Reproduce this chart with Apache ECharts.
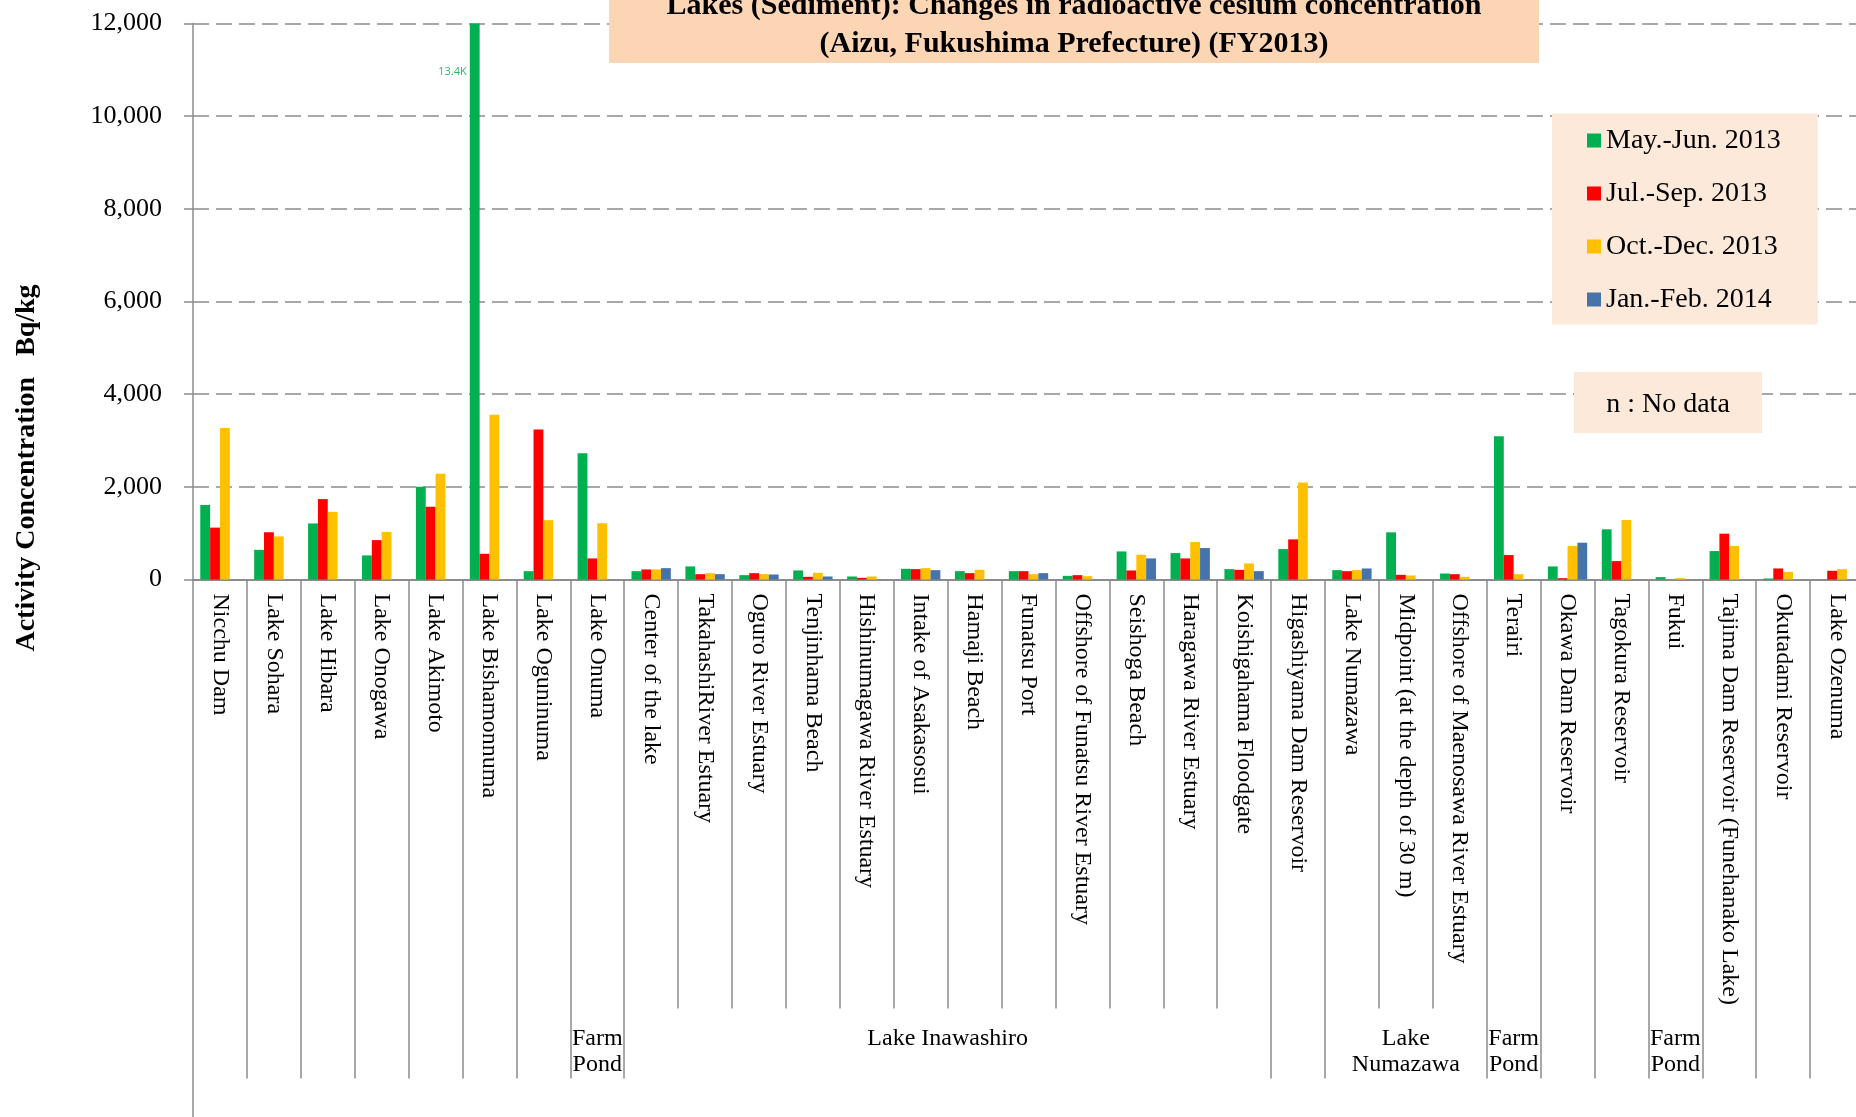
<!DOCTYPE html>
<html>
<head>
<meta charset="utf-8">
<script src="https://cdn.jsdelivr.net/npm/echarts@6/dist/echarts.min.js"></script>
<style>
  html, body { margin: 0; padding: 0; background: #fff; }
  #chart { width: 1856px; height: 1117px; }
</style>
</head>
<body>
<div id="chart"></div>
<script>
// sampling points (x axis)
var categories = [
  'Nicchu Dam', 'Lake Sohara', 'Lake Hibara', 'Lake Onogawa', 'Lake Akimoto',
  'Lake Bishamonnuma', 'Lake Oguninuma', 'Lake Onuma', 'Center of the lake',
  'TakahashiRiver Estuary', 'Oguro River Estuary', 'Tenjinhama Beach',
  'Hishinumagawa River Estuary', 'Intake of Asakasosui', 'Hamaji Beach',
  'Funatsu Port', 'Offshore of Funatsu River Estuary', 'Seishoga Beach',
  'Haragawa River Estuary', 'Koishigahama Floodgate', 'Higashiyama Dam Reservoir',
  'Lake Numazawa', 'Midpoint (at the depth of 30 m)',
  'Offshore of Maenosawa River Estuary', 'Terairi', 'Okawa Dam Reservoir',
  'Tagokura Reservoir', 'Fukui', 'Tajima Dam Reservoir (Funehanako Lake)',
  'Okutadami Reservoir', 'Lake Ozenuma'
];
var seriesNames = ['May.-Jun. 2013', 'Jul.-Sep. 2013', 'Oct.-Dec. 2013', 'Jan.-Feb. 2014'];
var seriesColors = ['#00B050', '#FF0000', '#FFC000', '#4674AA'];

// Bq/kg
var mayJun = [1610, 640, 1210, 520, 2000, 13400, 180, 2725, 180, 282, 94, 195, 65, 231, 180,
  180, 79, 606, 570, 224, 657, 202, 1018, 130, 3090, 282, 1083, 51, 614, 22, null];
var julSep = [1120, 1020, 1735, 850, 1570, 555, 3240, 455, 217, 115, 137, 58, 36, 224, 137,
  180, 94, 195, 455, 209, 866, 180, 101, 115, 527, 29, 397, null, 989, 238, 188];
var octDec = [3270, 930, 1460, 1025, 2280, 3555, 1280, 1215, 217, 137, 115, 144, 65, 245, 209,
  115, 72, 534, 809, 347, 2095, 202, 87, 58, 115, 722, 1285, 29, 722, 166, 224];
var janFeb = [null, null, null, null, null, null, null, null, 245, 115, 108, 65, null, 202, null,
  137, null, 455, 679, 180, null, 238, null, null, null, 794, null, null, null, null, null];

var yTicks = [0, 2000, 4000, 6000, 8000, 10000, 12000];
var overflowIndex = 5;        // Lake Bishamonnuma, clipped at the top
var overflowLabel = '13.4K';

// boundaries whose separator runs down to the group row
var longBounds = [0, 1, 2, 3, 4, 5, 6, 7, 8, 20, 21, 24, 25, 26, 27, 28, 29, 30];
var groups = [
  { text: 'Farm\nPond', from: 7, to: 7 },
  { text: 'Lake Inawashiro', from: 8, to: 19 },
  { text: 'Lake\nNumazawa', from: 21, to: 23 },
  { text: 'Farm\nPond', from: 24, to: 24 },
  { text: 'Farm\nPond', from: 27, to: 27 }
];

var serif = '"Liberation Serif", "Times New Roman", serif';
var gray = '#8c8c8c';
var myChart = echarts.init(document.getElementById('chart'));

var values = [mayJun, julSep, octDec, janFeb];
var series = values.map(function (arr, k) {
  var data = arr.slice();
  if (k === 0) {
    data[overflowIndex] = {
      value: arr[overflowIndex],
      label: {
        show: true, formatter: overflowLabel, position: [-3, 48],
        align: 'right', verticalAlign: 'middle',
        fontFamily: '"Open Sans", "Liberation Sans", sans-serif', fontSize: 11, color: '#2DB865'
      }
    };
  }
  return {
    name: seriesNames[k],
    type: 'bar',
    barGap: 0,
    barCategoryGap: '27%',
    itemStyle: { color: seriesColors[k] },
    data: data
  };
});

function sepAxis(len, show) {
  return {
    type: 'category', position: 'bottom', data: categories,
    axisLine: { show: false }, axisLabel: { show: false },
    axisTick: { show: true, length: len, interval: show, lineStyle: { color: gray, width: 1.5 } }
  };
}

var option = {
  backgroundColor: '#fff',
  animation: false,
  // plot runs past the right edge of the picture
  grid: { left: 193, top: 23.5, width: 1671, bottom: 537.5, outerBoundsMode: 'none' },
  legend: {
    orient: 'vertical', left: 1552, top: 113.5,
    backgroundColor: '#FDE9D9',
    padding: [13, 37, 11, 35],
    itemWidth: 14, itemHeight: 14, itemGap: 25,
    icon: 'rect',
    textStyle: { fontFamily: serif, fontSize: 28, lineHeight: 28, color: '#000' },
    data: seriesNames
  },
  xAxis: [
    {
      type: 'category', position: 'bottom', data: categories,
      axisLine: { lineStyle: { color: gray, width: 2 } },
      axisTick: { show: true, length: 429, interval: 0, lineStyle: { color: gray, width: 1.5 } },
      axisLabel: {
        interval: 0, rotate: -90, margin: 14,
        fontFamily: serif, fontSize: 24, color: '#000'
      }
    },
    sepAxis(499, function (i) { return longBounds.indexOf(i) >= 0; }),
    sepAxis(540, function (i) { return i === 0; })
  ],
  yAxis: {
    type: 'value',
    min: yTicks[0], max: yTicks[yTicks.length - 1], interval: yTicks[1] - yTicks[0],
    axisLine: { show: true, lineStyle: { color: gray, width: 1.5 } },
    axisTick: { show: true, length: 9, lineStyle: { color: gray, width: 1.5 } },
    splitLine: { lineStyle: { color: gray, width: 1.5, type: [16, 7] } },
    axisLabel: {
      margin: 31, fontFamily: serif, fontSize: 26, color: '#000',
      formatter: function (v) { return v.toLocaleString('en-US'); }
    }
  },
  series: series
};
myChart.setOption(option);

// boxes and free texts
var graphics = [
  { type: 'rect', shape: { x: 609, y: -60, width: 930, height: 123 }, style: { fill: '#FCD5B5' } },
  { type: 'text', x: 1074, y: 6.5, style: {
      text: 'Lakes (Sediment): Changes in radioactive cesium concentration',
      font: 'bold 30px ' + serif, fill: '#000', align: 'center', verticalAlign: 'middle' } },
  { type: 'text', x: 1074, y: 44, style: {
      text: '(Aizu, Fukushima Prefecture) (FY2013)',
      font: 'bold 30px ' + serif, fill: '#000', align: 'center', verticalAlign: 'middle' } },
  { type: 'rect', shape: { x: 1574, y: 372, width: 188, height: 61 }, style: { fill: '#FDE9D9' } },
  { type: 'text', x: 1668, y: 405, style: {
      text: 'n : No data', font: '28px ' + serif, fill: '#000', align: 'center', verticalAlign: 'middle' } },
  { type: 'text', x: 27, y: 468, rotation: Math.PI / 2, style: {
      text: 'Activity Concentration   Bq/kg', font: 'bold 28px ' + serif, fill: '#000',
      align: 'center', verticalAlign: 'middle' } }
];
groups.forEach(function (g) {
  var x0 = myChart.convertToPixel({ xAxisIndex: 0 }, categories[g.from]);
  var x1 = myChart.convertToPixel({ xAxisIndex: 0 }, categories[g.to]);
  graphics.push({ type: 'text', x: (x0 + x1) / 2, y: 1025, style: {
    text: g.text, font: '24px ' + serif, lineHeight: 26.5, fill: '#000',
    align: 'center', verticalAlign: 'top' } });
});
myChart.setOption({ graphic: graphics });
</script>
</body>
</html>
